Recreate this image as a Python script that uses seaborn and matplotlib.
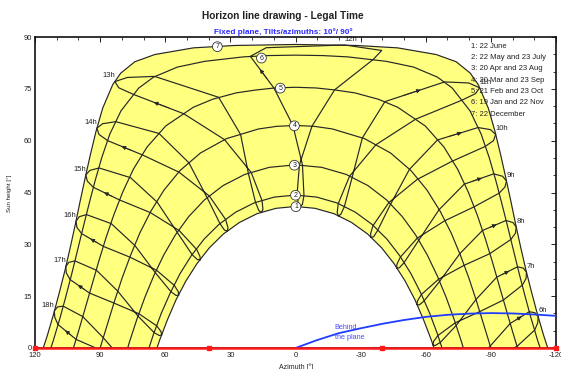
import numpy as np
import pandas as pd
import matplotlib
matplotlib.use("Agg")
import matplotlib.pyplot as plt
import seaborn as sns

# sun paths: azimuth [deg] / sun height [deg],
# from solar noon to sunset; the morning half is the mirror image
d1_az = [0, 9.0, 17.8, 25.8, 33.2, 39.7, 45.4, 50.5, 55.0, 58.9, 62.5, 63.8]
d1_el = [40.96, 40.42, 38.85, 36.34, 33.0, 28.98, 24.41, 19.38, 13.99, 8.32, 2.42, 0]
d2_az = [0, 9.8, 19.1, 27.6, 35.3, 42.1, 48.0, 53.2, 57.7, 61.8, 65.4, 67.5]
d2_el = [44.25, 43.67, 41.98, 39.29, 35.75, 31.52, 26.72, 21.50, 15.93, 10.08, 4.03, 0]
d3_az = [0, 12.1, 23.4, 33.4, 41.95, 49.2, 55.4, 60.7, 65.3, 69.4, 73.1, 76.5, 77.3]
d3_el = [53.0, 52.28, 50.22, 46.99, 42.86, 38.02, 32.66, 26.92, 20.89, 14.65, 8.24, 1.72, 0]
d4_az = [0, 8.6, 17.0, 31.8, 43.8, 53.2, 60.6, 66.6, 71.7, 76.0, 79.9, 83.4, 86.7, 90]
d4_el = [64.4, 64.15, 63.39, 60.59, 56.43, 51.35, 45.68, 39.62, 33.30, 26.80, 20.19, 13.50, 6.76, 0]
d5_az = [0, 9.6, 18.6, 27.4, 38.2, 47.1, 59.8, 68.4, 74.7, 79.6, 83.75, 87.4, 90.7, 93.8, 96.9, 100.0, 102.3]
d5_el = [75.45, 75.25, 74.64, 73.82, 71.98, 69.66, 64.24, 58.14, 51.72, 45.13, 38.43, 31.70, 24.93,
         18.17, 11.44, 4.75, 0]
d6_az = [0, 12.6, 24.0, 41.8, 54.4, 65.4, 72.2, 80.4, 85.5, 89.2, 92.3, 95.1, 97.8, 100.4, 103.0,
         105.7, 108.5, 111.5, 112.7]
d6_el = [84.75, 84.62, 84.25, 82.96, 81.30, 78.38, 75.23, 68.62, 61.94, 55.18, 48.43, 41.68, 34.96,
         28.28, 21.65, 15.11, 8.64, 2.28, 0]
d7_az = [0, 28.0, 47.0, 64.8, 74.0, 80.5, 84.2, 88.8, 91.9, 94.5, 96.9, 99.2, 101.4, 103.7, 106.1,
         108.7, 111.4, 114.3, 116.2]
d7_el = [87.84, 87.55, 86.86, 84.93, 82.84, 79.55, 76.20, 69.44, 62.67, 55.92, 49.20, 42.50, 35.85,
         29.24, 22.71, 16.25, 9.90, 3.66, 0]

legend_lines = ["1: 22 June", "2: 22 May and 23 July", "3: 20 Apr and 23 Aug",
                "4: 20 Mar and 23 Sep", "5: 21 Feb and 23 Oct", "6: 19 Jan and 22 Nov",
                "7: 22 December"]
date_lab_az = [-0.2, 0.0, 0.5, 0.5, 7.0, 15.7, 36.0]
date_lab_el = [40.9, 44.2, 52.9, 64.3, 75.2, 83.9, 87.2]

# hour loops (legal time) through the year:
# Jun22, Jul7, Jul23, Aug, Sep, Oct, Nov, Dec7, Dec22, Jan5, Jan19, Feb, Mar, Apr, May, Jun6
h6_az = [-89.0, -89.6, -98.9, -107.7, -110.3, -111.8, -111.6, -110.2, -102.1, -100.5]
h6_el = [0.0, 0.5, 7.1, 10.5, 10.2, 9.1, 7.3, 5.2, 0.5, 0.0]
h7_az = [-63.3, -64.3, -66.7, -74.0, -83.1, -92.7, -102.3, -105.0, -106.4, -106.2, -104.5, -95.8,
         -84.8, -73.6, -65.6, -63.6]
h7_el = [0.9, 0.7, 1.6, 6.5, 14.0, 20.5, 23.5, 23.1, 21.9, 20.1, 18.2, 13.9, 10.5, 7.3, 3.6, 1.9]
h8_az = [-55.9, -57.0, -59.2, -66.3, -75.7, -86.1, -97.0, -100.2, -101.7, -101.3, -99.2, -89.5,
         -77.6, -65.9, -58.0, -56.2]
h8_el = [12.6, 12.45, 13.6, 19.2, 27.3, 34.0, 36.9, 36.3, 35.0, 33.2, 31.4, 27.3, 23.9, 19.9, 15.5, 13.65]
h9_az = [-46.6, -47.8, -49.9, -56.7, -66.1, -77.7, -91.3, -95.4, -97.2, -96.5, -93.8, -82.1,
         -68.7, -56.1, -48.3, -46.7]
h9_el = [23.1, 23.2, 24.6, 31.1, 40.0, 47.4, 50.4, 49.7, 48.3, 46.6, 44.8, 40.8, 36.8, 31.8, 26.3, 24.2]
h10_az = [-34.7, -36.0, -37.8, -43.7, -52.5, -65.4, -84.1, -89.8, -92.2, -91.2, -87.3, -72.0,
          -56.1, -43.0, -35.7, -34.6]
h10_el = [32.0, 32.2, 34.0, 41.5, 51.7, 60.2, 63.8, 63.2, 61.8, 60.0, 58.3, 54.0, 48.8, 42.1, 35.4, 33.1]
h11_az = [-19.8, -20.9, -22.5, -26.1, -30.8, -41.2, -68.7, -79.8, -84.8, -82.9, -76.6, -55.3,
          -37.0, -24.9, -19.7, -19.2]
h11_el = [38.2, 38.7, 40.9, 49.4, 60.8, 71.3, 77.0, 76.7, 75.3, 73.6, 71.7, 66.2, 58.8, 49.7, 41.8, 39.2]
h12_az = [-2.2, -3.2, -3.9, -3.2, 1.2, 9.9, 20.8, 13.5, -22.6, -39.7, -35.8, -18.0, -7.6, -1.8, -0.7, -1.3]
h12_el = [40.9, 41.6, 44.2, 53.0, 64.4, 75.2, 84.4, 86.9, 87.7, 86.1, 83.5, 74.7, 64.2, 53.0, 44.25, 41.7]
h13_az = [15.7, 15.0, 15.4, 20.4, 32.7, 51.5, 74.5, 81.4, 83.2, 77.4, 64.9, 35.4, 25.3, 21.7, 18.4, 16.9]
h13_el = [39.2, 40.1, 42.65, 50.8, 60.3, 67.8, 73.35, 75.3, 77.1, 78.3, 78.6, 72.55, 61.8, 50.5, 42.1, 39.8]
h14_az = [31.4, 31.1, 32.2, 39.7, 53.7, 70.6, 86.5, 90.5, 91.5, 88.9, 82.8, 62.9, 49.1, 40.7, 34.8, 32.7]
h14_el = [33.8, 34.8, 37.2, 44.0, 50.9, 55.9, 60.0, 61.8, 63.6, 64.9, 65.5, 62.1, 53.6, 43.5, 36.0, 34.1]
h15_az = [43.9, 44.0, 45.5, 53.6, 66.9, 80.9, 93.1, 95.9, 96.6, 94.7, 90.5, 76.0, 63.7, 54.4, 47.6, 45.2]
h15_el = [25.5, 26.5, 28.5, 34.0, 39.2, 42.8, 46.5, 48.3, 50.1, 51.4, 52.1, 49.3, 42.2, 33.4, 27.0, 25.6]
h16_az = [53.8, 54.0, 55.8, 64.0, 76.3, 88.5, 98.5, 100.7, 101.1, 99.6, 96.3, 84.9, 73.9, 64.6, 57.4, 55.0]
h16_el = [15.3, 16.3, 18.1, 22.5, 26.3, 29.4, 33.1, 34.9, 36.7, 38.0, 38.6, 36.0, 29.6, 21.8, 16.3, 15.2]
h17_az = [61.6, 62.0, 63.9, 72.1, 83.6, 94.9, 103.8, 105.6, 105.8, 104.4, 101.6, 91.7, 81.8, 72.5, 65.1, 62.7]
h17_el = [3.8, 4.8, 6.4, 9.9, 13.0, 15.9, 19.8, 21.75, 23.6, 24.8, 25.2, 22.5, 16.4, 9.2, 4.45, 3.6]
h18_az = [92.0, 101.1, 109.4, 110.9, 111.1, 109.6, 107.0, 98.0, 88.6, 84.4]
h18_el = [0.0, 2.5, 6.8, 8.9, 10.7, 11.9, 12.1, 9.1, 3.0, 0.0]

hour_names = ["6h", "7h", "8h", "9h", "10h", "11h", "12h", "13h", "14h", "15h", "16h", "17h", "18h"]
hour_az = [h6_az, h7_az, h8_az, h9_az, h10_az, h11_az, h12_az, h13_az, h14_az, h15_az, h16_az, h17_az, h18_az]
hour_el = [h6_el, h7_el, h8_el, h9_el, h10_el, h11_el, h12_el, h13_el, h14_el, h15_el, h16_el, h17_el, h18_el]
dec_idx = [5, 8, 8, 8, 8, 8, 8, 8, 8, 8, 8, 8, 4]   # 22 Dec point (hour label)
oct_idx = [2, 5, 5, 5, 5, 5, 5, 5, 5, 5, 5, 5, 1]   # 23 Oct point (direction arrow)

# "behind the plane" line and plane limits on the horizon
behind_az = [0, -10, -20, -30, -40, -50, -60, -70, -80, -90, -100, -110, -120]
behind_el = [0, 2.3, 4.3, 5.7, 7.0, 8.1, 9.0, 9.6, 9.95, 10.1, 10.0, 9.7, 9.3]
limit_az = [120, 40, -40, -120]


def mirror(half_az, half_el):
    az = [-a for a in half_az[::-1]] + half_az[1:]
    el = half_el[::-1] + half_el[1:]
    return az, el


sns.set_theme(style="white")
plt.rcParams["font.family"] = ["Liberation Sans", "DejaVu Sans"]
plt.rcParams["axes.unicode_minus"] = False

W, H = 561, 369
fig = plt.figure(figsize=(W / 100, H / 100), dpi=100)
ax = fig.add_axes([35 / W, 21 / H, 521 / W, 311 / H])

# yellow band between 22 December and 22 June
jun_az, jun_el = mirror(d1_az, d1_el)
dec_az, dec_el = mirror(d7_az, d7_el)
ax.fill(dec_az + jun_az[::-1], dec_el + jun_el[::-1], color="#ffff80", lw=0, zorder=1)

frames = []
for i, (ha, he) in enumerate([(d1_az, d1_el), (d2_az, d2_el), (d3_az, d3_el), (d4_az, d4_el),
                              (d5_az, d5_el), (d6_az, d6_el), (d7_az, d7_el)]):
    az, el = mirror(ha, he)
    frames.append(pd.DataFrame({"az": az, "el": el, "curve": f"date{i + 1}"}))
for name, az, el in zip(hour_names, hour_az, hour_el):
    if el[0] > 0:  # whole year above the horizon: closed loop
        az, el = az + az[:1], el + el[:1]
    frames.append(pd.DataFrame({"az": az, "el": el, "curve": name}))
paths = pd.concat(frames, ignore_index=True)
sns.lineplot(data=paths, x="az", y="el", units="curve", estimator=None, sort=False,
             color="#262626", lw=0.85, ax=ax, legend=False, zorder=2)

# direction arrows and hour labels
for name, az, el, di, oi in zip(hour_names, hour_az, hour_el, dec_idx, oct_idx):
    x0, y0, x1, y1 = az[oi], el[oi], az[oi + 1], el[oi + 1]
    ax.annotate("", xy=(x0 + 0.6 * (x1 - x0), y0 + 0.6 * (y1 - y0)),
                xytext=(x0 + 0.3 * (x1 - x0), y0 + 0.3 * (y1 - y0)),
                arrowprops=dict(arrowstyle="-|>", color="#262626", lw=0.6, mutation_scale=6,
                                shrinkA=0, shrinkB=0), zorder=3)
    ax.annotate(name, (az[di], el[di]), xytext=(0, 1.5), textcoords="offset points",
                ha="left" if az[di] < 0 else "right", va="bottom", fontsize=5.5,
                color="#222222", zorder=6, annotation_clip=False)

for k, (a, e) in enumerate(zip(date_lab_az, date_lab_el)):
    ax.text(a, e, str(k + 1), ha="center", va="center", fontsize=5, color="#222222", zorder=7,
            bbox=dict(boxstyle="circle,pad=0.2", fc="white", ec="#333333", lw=0.6))

ax.plot(behind_az, behind_el, color="#1f3cff", lw=1.3, zorder=4)
ax.text(-18, 6.0, "Behind", color="#4a4aff", fontsize=5.2, ha="left", va="center", zorder=6)
ax.text(-18, 3.0, "the plane", color="#4a4aff", fontsize=5.2, ha="left", va="center", zorder=6)

ax.plot([120, -120], [0, 0], color="#ff1a1a", lw=1.8, clip_on=False, zorder=8)
ax.plot(limit_az, [0] * len(limit_az), "s", color="#ff1a1a", ms=2.4, clip_on=False, zorder=9)

ax.set_xlim(120, -120)
ax.set_ylim(0, 90)
ax.set_xticks([120, 90, 60, 30, 0, -30, -60, -90, -120])
ax.set_xticks(np.arange(-120, 121, 10), minor=True)
ax.set_yticks(np.arange(0, 91, 15))
ax.set_yticks(np.arange(0, 91, 5), minor=True)
ax.tick_params(which="both", direction="in", top=True, right=True, labelsize=5.5,
               colors="#222222", pad=2)
ax.tick_params(axis="x", pad=3)
ax.tick_params(which="major", length=3.5, width=0.7)
ax.tick_params(which="minor", length=2, width=0.6)
ax.set_xlabel("")
ax.set_ylabel("")
for s in ax.spines.values():
    s.set_color("#111111")
    s.set_linewidth(1.2)

fig.text(283 / W, 1 - 16 / H, "Horizon line drawing - Legal Time", ha="center", va="center",
         fontsize=7.3, fontweight="bold", color="#222222")
fig.text(283 / W, 1 - 32 / H, "Fixed plane, Tilts/azimuths: 10°/ 90°", ha="center", va="center",
         fontsize=5.9, fontweight="bold", color="#2b2bff")
fig.text(10 / W, 1 - 193 / H, "Sun height [°]", rotation=90, ha="center", va="center",
         fontsize=4.5, color="#222222")
fig.text(296 / W, 1 - 367 / H, "Azimuth [°]", ha="center", va="center", fontsize=5,
         color="#222222")
for i, line in enumerate(legend_lines):
    fig.text(471 / W, 1 - (46 + 11.4 * i) / H, line, ha="left", va="center", fontsize=5.5,
             color="#222222")

fig.savefig("out.png", dpi=100)
